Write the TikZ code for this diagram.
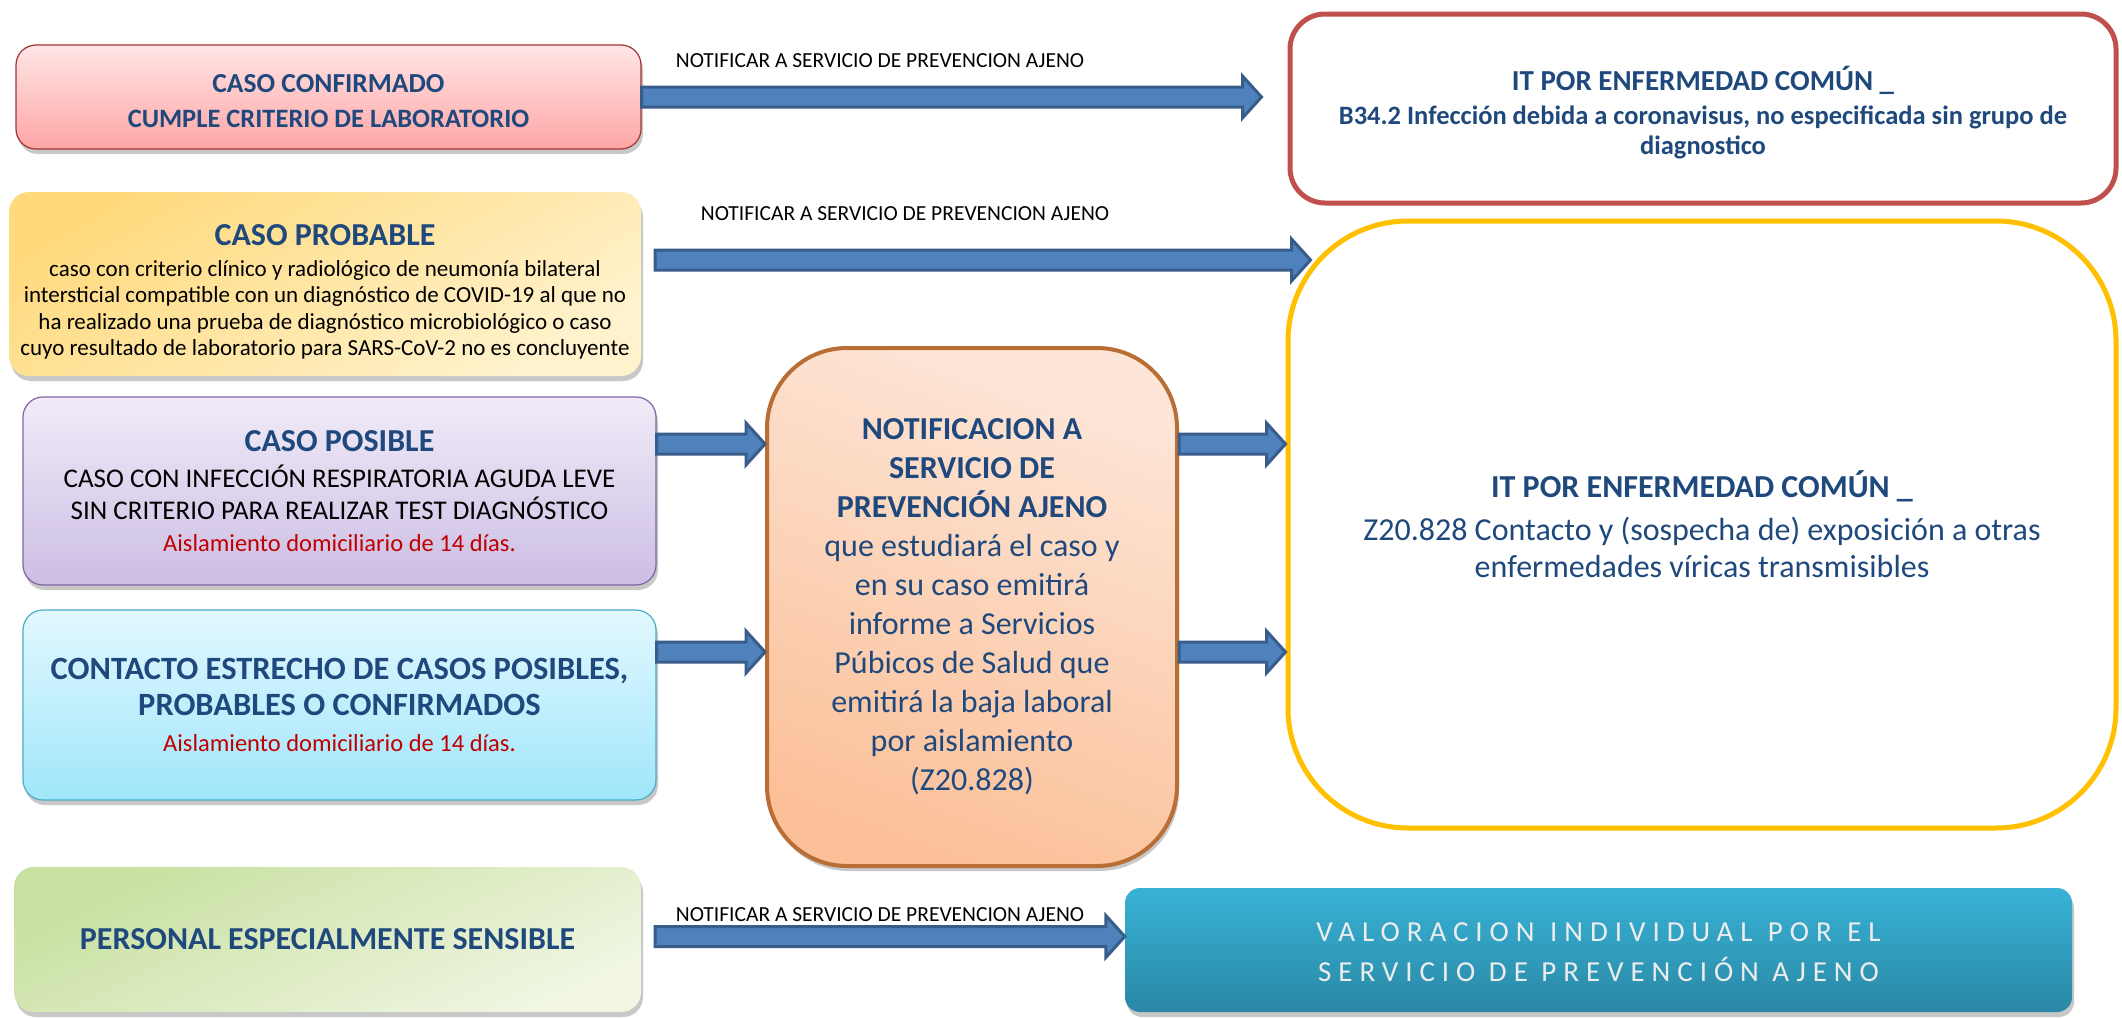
\documentclass[tikz,border=0pt]{standalone}
\usepackage{fontspec}
\setmainfont{Carlito}
\usetikzlibrary{calc,shadows}
\definecolor{tblue}{HTML}{1F497D}
\definecolor{tred}{HTML}{C00000}
\definecolor{afill}{HTML}{4F81BD}
\definecolor{aline}{HTML}{385D8A}
\newcommand\blockarrow[2]{%
  \draw[barrow] let \p1=#1, \p2=#2 in
    (\x1,\y1+10pt) -- (\x2-19pt,\y1+10pt) -- (\x2-19pt,\y1+21pt) -- (\x2,\y1)
    -- (\x2-19pt,\y1-21pt) -- (\x2-19pt,\y1-10pt) -- (\x1,\y1-10pt) -- cycle;}
\newcommand\fs[2]{\fontsize{#1}{#2}\selectfont}
\newcommand\wsp{\hspace{2pt} }
\begin{document}
\begin{tikzpicture}[x=1pt,y=-1pt,
  box/.style={rounded corners=20pt, inner sep=0pt, align=center,
    drop shadow={shadow xshift=2pt, shadow yshift=-5pt, opacity=0.3, fill=black!70}},
  barrow/.style={fill=afill, draw=aline, line width=3pt, line join=miter},
  lbl/.style={font=\fs{21.5}{24}, inner sep=0pt}
]
\useasboundingbox[fill=white] (0,0) rectangle (2122,1017);

% left column
\node[box, draw=red!55!black!80, line width=1.2pt, top color=red!10, bottom color=red!35,
  minimum width=625pt, minimum height=104pt, text=tblue, font=\fs{26.5}{35}\bfseries] (b1) at (328.5,97)
  {\rule{0pt}{27pt}{\fs{27.5}{35}CASO CONFIRMADO}\\
   CUMPLE CRITERIO DE LABORATORIO};

\node[box, top color={rgb,255:red,255;green,218;blue,125}, bottom color={rgb,255:red,255;green,242;blue,205}, shading angle=30,
  minimum width=632pt, minimum height=184pt, font=\fs{23}{26.5}] (b2) at (325,284)
  {\rule{0pt}{37pt}{\color{tblue}\fs{32}{34}\bfseries CASO PROBABLE}\\[4pt]
   caso con criterio clínico y radiológico de neumonía bilateral\\
   intersticial compatible con un diagnóstico de COVID-19 al que no\\
   ha realizado una prueba de diagnóstico microbiológico o caso\\
   cuyo resultado de laboratorio para SARS-CoV-2 no es concluyente};

\node[box, draw={rgb,255:red,128;green,100;blue,162}, line width=1.2pt,
  top color={rgb,255:red,241;green,235;blue,248}, bottom color={rgb,255:red,204;green,190;blue,228},
  minimum width=633pt, minimum height=188pt, font=\fs{27}{32}] (b3) at (339.5,491)
  {{\color{tblue}\fs{32}{34}\bfseries CASO POSIBLE}\\[4pt]
   CASO CON INFECCIÓN RESPIRATORIA AGUDA LEVE\\
   SIN CRITERIO PARA REALIZAR TEST DIAGNÓSTICO\\
   {\color{tred}\fs{24.5}{31}Aislamiento domiciliario de 14 días.}};

\node[box, draw={rgb,255:red,75;green,172;blue,198}, line width=1.2pt,
  top color={rgb,255:red,226;green,248;blue,255}, bottom color={rgb,255:red,160;green,230;blue,250},
  minimum width=633pt, minimum height=190pt, text=tblue, font=\fs{32.5}{36}\bfseries] (b4) at (339.5,705)
  {CONTACTO ESTRECHO DE CASOS POSIBLES,\\
   PROBABLES O CONFIRMADOS\\
   {\color{tred}\mdseries\fs{24.5}{35}Aislamiento domiciliario de 14 días.}};

\node[box, top color={rgb,255:red,200;green,224;blue,160}, bottom color={rgb,255:red,240;green,246;blue,226}, shading angle=25,
  minimum width=627pt, minimum height=145pt, text=tblue, font=\fs{32}{34}\bfseries] (b5) at (327.5,939.5)
  {PERSONAL ESPECIALMENTE SENSIBLE};

% central
\node[box, rounded corners=80pt, draw={rgb,255:red,184;green,110;blue,52}, line width=4pt, drop shadow={opacity=0},
  top color={rgb,255:red,253;green,230;blue,216}, bottom color={rgb,255:red,251;green,192;blue,152}, shading angle=-20,
  minimum width=410pt, minimum height=518pt, text=tblue, font=\fs{32}{39}] (cen) at (972,607)
  {\textbf{NOTIFICACION A}\\
   \textbf{SERVICIO DE}\\
   \textbf{PREVENCIÓN AJENO}\\
   que estudiará el caso y\\
   en su caso emitirá\\
   informe a Servicios\\
   Púbicos de Salud que\\
   emitirá la baja laboral\\
   por aislamiento\\
   (Z20.828)};

% right column
\node[draw={rgb,255:red,192;green,80;blue,77}, line width=5pt, fill=white, rounded corners=35pt,
  inner sep=0pt, align=center, minimum width=826pt, minimum height=189pt,
  text=tblue, font=\fs{26.5}{30}\bfseries] (it1) at (1703,108.5)
  {\rule{0pt}{33pt}{\fs{29}{35}IT POR ENFERMEDAD COMÚN \_}\\[4pt]
   B34.2 Infección debida a coronavisus, no especificada sin grupo de\\
   diagnostico};

\node[draw={rgb,255:red,255;green,192;blue,0}, line width=5pt, fill=white, rounded corners=120pt,
  inner sep=0pt, align=center, minimum width=828pt, minimum height=607pt,
  text=tblue, font=\fs{32}{37}] (yel) at (1702,524.5)
  {{\bfseries\fs{32}{37}IT POR ENFERMEDAD COMÚN \_}\\[6pt]
   Z20.828 Contacto y (sospecha de) exposición a otras\\
   enfermedades víricas transmisibles};

\node[box, rounded corners=15pt, top color={rgb,255:red,56;green,178;blue,214}, bottom color={rgb,255:red,42;green,136;blue,165},
  minimum width=947pt, minimum height=124pt, text=white!93!black,
  font=\fs{29}{40}\addfontfeatures{LetterSpace=24}] (b6) at (1598.5,950)
  {\rule{0pt}{24pt}VALORACION\wsp INDIVIDUAL\wsp POR\wsp EL\\
   SERVICIO DE PREVENCIÓN AJENO};

% labels
\node[lbl] (l1) at (880,61) {NOTIFICAR A SERVICIO DE PREVENCION AJENO};
\node[lbl] (l2) at (905,214) {NOTIFICAR A SERVICIO DE PREVENCION AJENO};
\node[lbl] (l3) at (880,915) {NOTIFICAR A SERVICIO DE PREVENCION AJENO};

% arrows
\blockarrow{(b1.east)}{([xshift=-26pt]it1.west)}
\blockarrow{([xshift=14pt,yshift=24pt]b2.east)}{([xshift=25pt]yel.west)}
\blockarrow{([yshift=47pt]b3.east)}{(cen.west)}
\blockarrow{([yshift=53pt]b4.east)}{(cen.west)}
\blockarrow{([yshift=163pt]cen.east)}{(yel.west)}
\blockarrow{([yshift=-45pt]cen.east)}{(yel.west)}
\blockarrow{([xshift=14pt,yshift=3pt]b5.east)}{(b6.west)}
\end{tikzpicture}
\end{document}
